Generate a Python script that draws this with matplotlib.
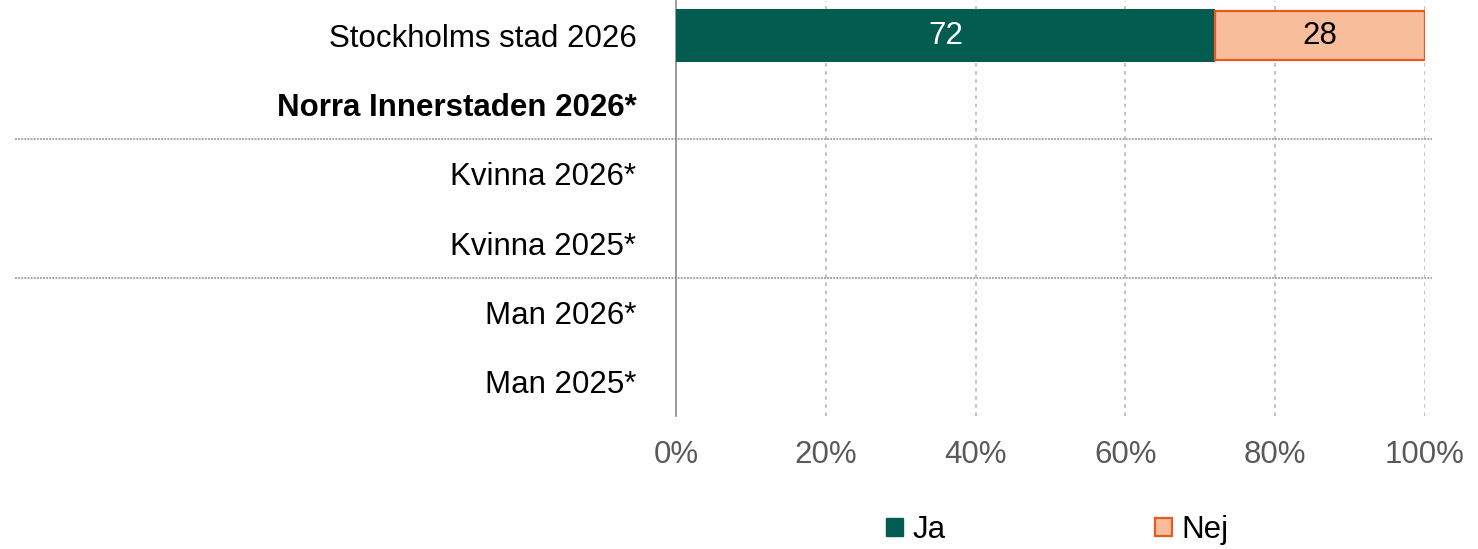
import matplotlib
matplotlib.use("Agg")
import matplotlib.pyplot as plt
from matplotlib.patches import Patch
from matplotlib.transforms import blended_transform_factory

plt.rcParams['font.family'] = ['Liberation Sans', 'DejaVu Sans']

categories = ["Stockholms stad 2026", "Norra Innerstaden 2026*", "Kvinna 2026*",
              "Kvinna 2025*", "Man 2026*", "Man 2025*"]
ja_values = [72, None, None, None, None, None]
nej_values = [28, None, None, None, None, None]
x_ticks = [0, 20, 40, 60, 80, 100]
x_tick_labels = ["0%", "20%", "40%", "60%", "80%", "100%"]
bold_rows = [1]

JA_COLOR = "#035C50"
NEJ_FILL = "#F8BE9C"
NEJ_EDGE = "#E9581F"
FS = 22.5

fig = plt.figure(figsize=(14.78, 5.49), dpi=100)
ax = fig.add_axes([676 / 1478, 1 - 416 / 549, 749 / 1478, 415 / 549])

ypos = list(range(len(categories)))
for y, ja, nej in zip(ypos, ja_values, nej_values):
    if ja is None:
        continue
    ax.barh(y, ja, height=0.76, color=JA_COLOR, edgecolor="none", zorder=3)
    ax.barh(y, nej, left=ja, height=0.72, color=NEJ_FILL, edgecolor=NEJ_EDGE,
            linewidth=1.6, zorder=3)
    ax.text(ja / 2, y, f"{ja}", ha="center", va="center", color="white",
            fontsize=FS, zorder=4)
    ax.text(ja + nej / 2, y, f"{nej}", ha="center", va="center", color="black",
            fontsize=FS, zorder=4)

ax.set_xlim(0, 100)
ax.set_ylim(len(categories) - 0.5, -0.5)
ax.set_yticks(ypos)
ax.set_yticklabels(categories, fontsize=FS, color="#000000")
for i, lbl in enumerate(ax.get_yticklabels()):
    if i in bold_rows:
        lbl.set_fontweight("bold")
ax.set_xticks(x_ticks)
ax.set_xticklabels(x_tick_labels, fontsize=FS, color="#595959")
ax.tick_params(axis="both", length=0)
ax.tick_params(axis="y", pad=28.5)
ax.tick_params(axis="x", pad=17)

for s in ["top", "right", "bottom"]:
    ax.spines[s].set_visible(False)
ax.spines["left"].set_color("#8a8a8a")
ax.spines["left"].set_linewidth(1.2)

for xv in x_ticks[1:]:
    ax.axvline(xv, color="#bdbdbd", linestyle=(0, (2, 2.5)), linewidth=1.3, zorder=1)

# group separators spanning the label column and the plot
trans = blended_transform_factory(ax.transAxes, ax.transData)
for yb in [1.5, 3.5]:
    ax.plot([-0.8825, 1.009], [yb, yb], transform=trans, color="#a8a8a8",
            linewidth=1.4, linestyle=(0, (1, 0.6)), clip_on=False, zorder=2)

handles = [Patch(facecolor=JA_COLOR, edgecolor=JA_COLOR, label="Ja"),
           Patch(facecolor=NEJ_FILL, edgecolor=NEJ_EDGE, linewidth=1.6, label="Nej")]
fig.legend(handles=handles, loc="center", bbox_to_anchor=(1057 / 1478, 1 - 530 / 549),
           ncol=2, frameon=False, fontsize=FS, handlelength=0.55, handleheight=0.55,
           handletextpad=0.3, columnspacing=6.7, borderpad=0, borderaxespad=0)

fig.savefig("out.png", dpi=100)
